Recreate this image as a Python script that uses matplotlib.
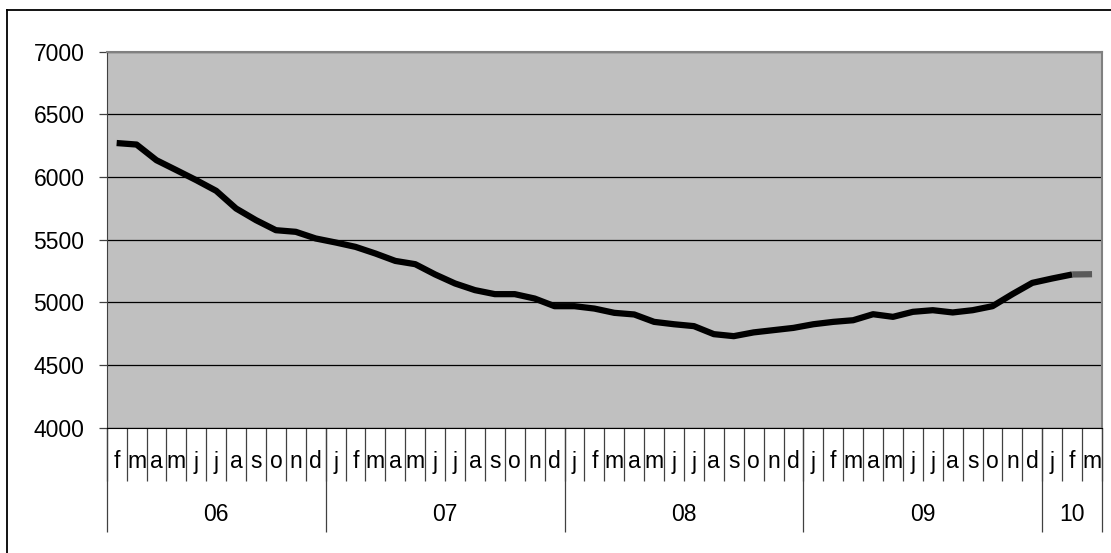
import matplotlib
matplotlib.use("Agg")
import matplotlib.pyplot as plt
from matplotlib.lines import Line2D
import matplotlib.transforms as mtransforms

plt.rcParams['font.family'] = ['Liberation Sans', 'DejaVu Sans']

# months from feb 2006 to mar 2010
months = ['f', 'm', 'a', 'm', 'j', 'j', 'a', 's', 'o', 'n', 'd',
          'j', 'f', 'm', 'a', 'm', 'j', 'j', 'a', 's', 'o', 'n', 'd',
          'j', 'f', 'm', 'a', 'm', 'j', 'j', 'a', 's', 'o', 'n', 'd',
          'j', 'f', 'm', 'a', 'm', 'j', 'j', 'a', 's', 'o', 'n', 'd',
          'j', 'f', 'm']
years = ['06', '07', '08', '09', '10']
months_per_year = [11, 12, 12, 12, 3]

values = [6270, 6258, 6133, 6054, 5974, 5889, 5748, 5655, 5575, 5562, 5509,
          5477, 5442, 5389, 5330, 5304, 5222, 5150, 5097, 5065, 5065, 5030, 4969,
          4969, 4950, 4916, 4903, 4844, 4825, 4810, 4746, 4730, 4760, 4778, 4796,
          4825, 4844, 4857, 4905, 4884, 4924, 4937, 4919, 4937, 4969, 5065, 5155,
          5190, 5222, 5224]

W, H = 1111, 553
fig = plt.figure(figsize=(W / 100, H / 100), dpi=100)
fig.patch.set_facecolor('white')

left, right, top, bottom = 106.7, 1102.0, 51.5, 427.7
ax = fig.add_axes([left / W, 1 - bottom / H, (right - left) / W, (bottom - top) / H])
ax.set_facecolor('#c0c0c0')

fs = 16.5
n = len(values)
x = list(range(n))
ax.plot(x[:-1], values[:-1], color='black', lw=4.5, solid_capstyle='butt', solid_joinstyle='round', zorder=3)
ax.plot(x[-2:], values[-2:], color='#5a5a5a', lw=4.5, solid_capstyle='butt', zorder=3)

ax.set_xlim(-0.5, n - 0.5)
ax.set_ylim(4000, 7000)
ax.set_yticks(range(4000, 7001, 500))
ax.yaxis.grid(True, color='black', lw=0.9)
ax.set_axisbelow(True)
ax.tick_params(axis='y', labelsize=fs, length=6, width=0.9, color='#404040', pad=10)

# month separators as ticks
ax.set_xticks([i - 0.5 for i in range(n + 1)])
ax.set_xticklabels([])
ax.tick_params(axis='x', length=38, width=0.9, color='#404040', direction='out')

trans = mtransforms.blended_transform_factory(ax.transData, ax.transAxes)
ph = bottom - top
for i, m in enumerate(months):
    ax.text(i, -(462 - bottom) / ph, m, transform=trans, ha='center', va='center', fontsize=fs)

start = -0.5
bounds = [start]
for y, k in zip(years, months_per_year):
    mid = start + k / 2
    ax.text(mid, -(514.5 - bottom) / ph, y, transform=trans, ha='center', va='center', fontsize=fs)
    start += k
    bounds.append(start)
ax.vlines(bounds, -(532 - bottom) / ph, 0, transform=trans, color='#404040', lw=0.9, clip_on=False)

for s in ['top', 'right']:
    ax.spines[s].set_color('#808080')
    ax.spines[s].set_linewidth(1.5)
ax.spines['left'].set_color('#404040')
ax.spines['bottom'].set_color('black')

# outer chart border
fig.add_artist(Line2D([7 / W, 7 / W], [0, 1 - 10 / H], color='black', lw=1.3))
fig.add_artist(Line2D([7 / W, 1], [1 - 10 / H, 1 - 10 / H], color='black', lw=1.3))

fig.savefig('out.png', dpi=100)
